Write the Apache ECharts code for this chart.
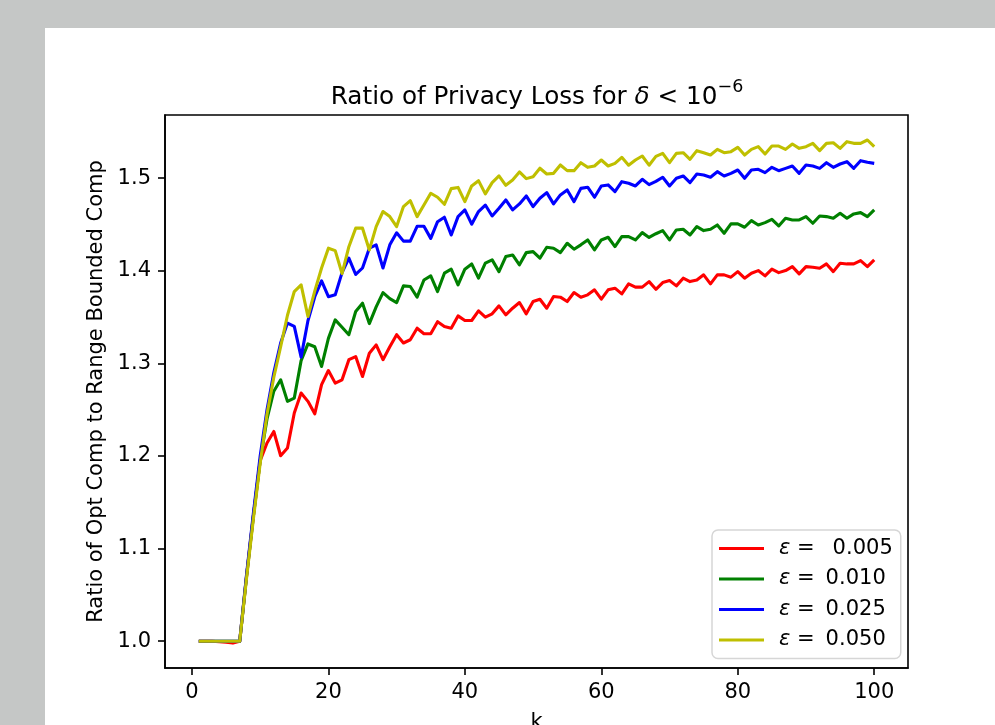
<!DOCTYPE html>
<html>
<head>
<meta charset="utf-8">
<script src="https://cdn.jsdelivr.net/npm/echarts@6/dist/echarts.min.js"></script>
<style>
  body { margin: 0; background: #c5c7c6; }
  #panel { position: absolute; left: 45px; top: 28px; right: 0; bottom: 0; background: #ffffff; }
  #chart { position: absolute; left: 0; top: 0; width: 995px; height: 725px; }
</style>
</head>
<body>
<div id="panel"></div>
<div id="chart"></div>
<script>
// k = 1..100
const kValues = [
  1, 2, 3, 4, 5, 6, 7, 8, 9, 10, 11, 12, 13, 14, 15, 16, 17, 18, 19, 20,
  21, 22, 23, 24, 25, 26, 27, 28, 29, 30, 31, 32, 33, 34, 35, 36, 37, 38, 39, 40,
  41, 42, 43, 44, 45, 46, 47, 48, 49, 50, 51, 52, 53, 54, 55, 56, 57, 58, 59, 60,
  61, 62, 63, 64, 65, 66, 67, 68, 69, 70, 71, 72, 73, 74, 75, 76, 77, 78, 79, 80,
  81, 82, 83, 84, 85, 86, 87, 88, 89, 90, 91, 92, 93, 94, 95, 96, 97, 98, 99, 100
];

const eps005 = [
  1.0, 1.0, 1.0, 0.9995, 0.999, 0.998, 1.0, 1.07, 1.135, 1.195,
  1.214, 1.2265, 1.2003, 1.2086, 1.2464, 1.268, 1.259, 1.2456, 1.277, 1.2923,
  1.2787, 1.2823, 1.304, 1.3074, 1.2859, 1.311, 1.320, 1.304, 1.318, 1.331,
  1.322, 1.3255, 1.338, 1.332, 1.332, 1.345, 1.3398, 1.338, 1.3513, 1.3463,
  1.3463, 1.3567, 1.350, 1.3535, 1.3621, 1.3524, 1.3596, 1.3657, 1.3535, 1.3668,
  1.3693, 1.3596, 1.3722, 1.3715, 1.3668, 1.3765, 1.3715, 1.374, 1.3794, 1.3693,
  1.3794, 1.3812, 1.375, 1.3859, 1.3823, 1.3823, 1.3883, 1.380, 1.3873, 1.3894,
  1.3837, 1.392, 1.3883, 1.390, 1.3956, 1.3859, 1.3956, 1.3956, 1.3931, 1.3991,
  1.392, 1.3974, 1.4002, 1.3945, 1.4017, 1.398, 1.4002, 1.4045, 1.3966, 1.4045,
  1.4038, 1.4027, 1.4074, 1.3991, 1.4082, 1.4074, 1.4074, 1.411, 1.4045, 1.4118
];

const eps010 = [
  1.0, 1.0, 1.0, 1.0, 1.0, 1.0, 1.0, 1.07, 1.135, 1.195,
  1.24, 1.27, 1.2823, 1.259, 1.2626, 1.303, 1.321, 1.318, 1.2967, 1.327,
  1.347, 1.339, 1.331, 1.356, 1.365, 1.343, 1.361, 1.3765, 1.370, 1.3657,
  1.3837, 1.383, 1.3715, 1.390, 1.3945, 1.3776, 1.3974, 1.4017, 1.3848, 1.4017,
  1.4074, 1.392, 1.4082, 1.4118, 1.3991, 1.4153, 1.4171, 1.4064, 1.4196, 1.4207,
  1.4136, 1.4254, 1.4244, 1.4196, 1.4297, 1.4233, 1.428, 1.4333, 1.4225, 1.4333,
  1.4362, 1.4261, 1.4369, 1.4369, 1.4333, 1.4412, 1.436, 1.440, 1.4434, 1.4333,
  1.4441, 1.4448, 1.4387, 1.4477, 1.4434, 1.4448, 1.4495, 1.4405, 1.4506, 1.4506,
  1.447, 1.4542, 1.4495, 1.452, 1.4556, 1.4484, 1.4567, 1.4549, 1.4549, 1.4585,
  1.4513, 1.4592, 1.4585, 1.4567, 1.4621, 1.4567, 1.4614, 1.4628, 1.4585, 1.4657
];

const eps025 = [
  1.0, 1.0, 1.0, 1.0, 1.0, 1.0, 1.0, 1.072, 1.138, 1.2,
  1.25, 1.29, 1.322, 1.3435, 1.340, 1.3068, 1.346, 1.372, 1.389, 1.372,
  1.374, 1.398, 1.4136, 1.396, 1.403, 1.4244, 1.428, 1.403, 1.428, 1.441,
  1.432, 1.432, 1.448, 1.448, 1.435, 1.453, 1.4578, 1.4387, 1.4585, 1.4657,
  1.4503, 1.4639, 1.471, 1.4592, 1.4675, 1.4765, 1.4657, 1.4722, 1.4808, 1.4693,
  1.4783, 1.4844, 1.4722, 1.4819, 1.4873, 1.4747, 1.489, 1.4902, 1.4794, 1.4916,
  1.4927, 1.4854, 1.4962, 1.4945, 1.4916, 1.4988, 1.493, 1.4965, 1.501, 1.4916,
  1.4999, 1.5024, 1.4952, 1.5045, 1.5034, 1.501, 1.507, 1.5024, 1.5052, 1.5088,
  1.4999, 1.5088, 1.5096, 1.506, 1.5117, 1.5081, 1.5106, 1.5131, 1.5052, 1.5142,
  1.5131, 1.5106, 1.5167, 1.5117, 1.5153, 1.5178, 1.5106, 1.5189, 1.5171, 1.516
];

const eps050 = [
  1.0, 1.0, 1.0, 1.0, 1.0, 1.0, 1.0, 1.068, 1.132, 1.192,
  1.245, 1.285, 1.318, 1.352, 1.3776, 1.3848, 1.3506, 1.378, 1.403, 1.4244,
  1.4218, 1.397, 1.426, 1.446, 1.446, 1.4225, 1.4477, 1.464, 1.4585, 1.4477,
  1.4693, 1.4757, 1.4585, 1.471, 1.4837, 1.4794, 1.4718, 1.4887, 1.490, 1.4747,
  1.4916, 1.4973, 1.483, 1.4952, 1.5024, 1.4923, 1.498, 1.5067, 1.4995, 1.5016,
  1.5107, 1.5045, 1.5052, 1.5142, 1.5081, 1.5081, 1.5167, 1.5117, 1.5131, 1.5196,
  1.5131, 1.516, 1.5225, 1.514, 1.5196, 1.5239, 1.514, 1.5235, 1.5268, 1.5167,
  1.5268, 1.5275, 1.5204, 1.5297, 1.5275, 1.525, 1.5311, 1.5275, 1.5286, 1.5333,
  1.525, 1.5311, 1.534, 1.5261, 1.5347, 1.5347, 1.5311, 1.5369, 1.5322, 1.534,
  1.5376, 1.5297, 1.5376, 1.5383, 1.5322, 1.5394, 1.5376, 1.5376, 1.5412, 1.534
];

const epsLabels = ['0.005', '0.010', '0.025', '0.050'];
const seriesNames = epsLabels.map(v => '\u03b5 = ' + v);
const seriesColors = ['#ff0000', '#008000', '#0000ff', '#bfbf00'];
const seriesData = [eps005, eps010, eps025, eps050];

const xTicks = [0, 20, 40, 60, 80, 100];
const yTicks = [1.0, 1.1, 1.2, 1.3, 1.4, 1.5];

const FONT = 'DejaVu Sans';

function legendText(name) {
    let v = name.split('= ')[1];
    // the first label has a wider gap after "=" in the original
    let style = v === '0.005' ? 'w' : 'n';
    return '{i|\u03b5}{t| =}{' + style + '|' + v + '}';
}

function getOption() {
    let option = {
        animation: false,
        title: {
            text: '{n|Ratio of Privacy Loss for }{i|\u03b4}{n| < 10}{s|\u22126}',
            left: 537,
            top: 78,
            padding: 0,
            textAlign: 'center',
            textStyle: {
                fontWeight: 'normal',
                rich: {
                    n: { fontFamily: FONT, fontSize: 24.7, fontWeight: 'normal', color: '#000', lineHeight: 32, verticalAlign: 'bottom' },
                    i: { fontFamily: FONT, fontSize: 24.7, fontWeight: 'normal', fontStyle: 'italic', color: '#000', lineHeight: 32, verticalAlign: 'bottom' },
                    s: { fontFamily: FONT, fontSize: 17.5, fontWeight: 'normal', color: '#000', lineHeight: 18, verticalAlign: 'top' }
                }
            }
        },
        grid: {
            left: 165,
            top: 115,
            width: 743,
            height: 553,
            show: true,
            borderColor: '#000',
            borderWidth: 1.6,
            containLabel: false,
            outerBoundsMode: 'none'
        },
        xAxis: {
            type: 'value',
            min: -3.95,
            max: 104.95,
            name: 'k',
            nameLocation: 'middle',
            nameGap: 44,
            nameTextStyle: { fontFamily: FONT, fontSize: 21, color: '#000' },
            axisLine: { show: true, onZero: false, lineStyle: { color: '#000', width: 1.6 } },
            axisTick: { show: true, length: 7, lineStyle: { color: '#000', width: 1.6 }, customValues: xTicks },
            axisLabel: { fontFamily: FONT, fontSize: 21, color: '#000', margin: 14, customValues: xTicks },
            splitLine: { show: false }
        },
        yAxis: {
            type: 'value',
            min: 0.9711,
            max: 1.5682,
            name: 'Ratio of Opt Comp to Range Bounded Comp',
            nameLocation: 'middle',
            nameGap: 56,
            nameTextStyle: { fontFamily: FONT, fontSize: 21, color: '#000' },
            axisLine: { show: true, onZero: false, lineStyle: { color: '#000', width: 1.6 } },
            axisTick: { show: true, length: 7, lineStyle: { color: '#000', width: 1.6 }, customValues: yTicks },
            axisLabel: {
                fontFamily: FONT, fontSize: 21, color: '#000', margin: 14, customValues: yTicks,
                formatter: v => v.toFixed(1)
            },
            splitLine: { show: false }
        },
        legend: {
            orient: 'vertical',
            left: 712,
            top: 530,
            padding: [8, 8, 8, 7],
            itemGap: 9.5,
            itemWidth: 45,
            itemHeight: 3,
            icon: 'rect',
            backgroundColor: '#ffffff',
            borderColor: '#d6d6d6',
            borderWidth: 1.5,
            borderRadius: 6,
            data: seriesNames,
            formatter: legendText,
            textStyle: {
                fontFamily: FONT, fontSize: 21, color: '#000', lineHeight: 21,
                padding: [0, 0, 0, 10],
                rich: {
                    i: { fontFamily: FONT, fontSize: 21, fontStyle: 'italic', color: '#000' },
                    t: { fontFamily: FONT, fontSize: 21, color: '#000' },
                    n: { fontFamily: FONT, fontSize: 21, color: '#000', padding: [0, 0, 0, 11] },
                    w: { fontFamily: FONT, fontSize: 21, color: '#000', padding: [0, 0, 0, 18] }
                }
            }
        }
    };
    option.series = [];
    for (let i = 0; i < seriesData.length; ++i) {
        option.series.push({
            name: seriesNames[i],
            type: 'line',
            symbol: 'none',
            color: seriesColors[i],
            lineStyle: { color: seriesColors[i], width: 3.1, join: 'round' },
            data: seriesData[i].map((v, j) => [kValues[j], v])
        });
    }
    return option;
}

var myChart = echarts.init(document.getElementById('chart'));
myChart.setOption(getOption());
</script>
</body>
</html>
